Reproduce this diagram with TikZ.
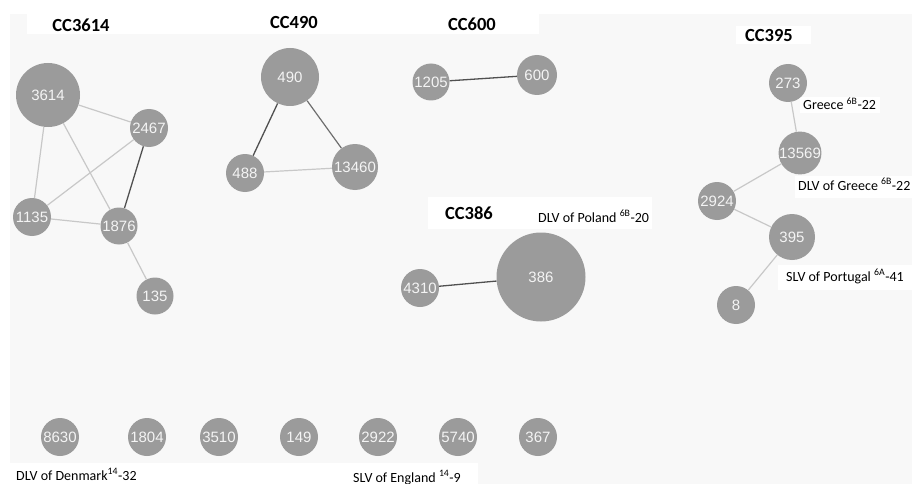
\documentclass[tikz,border=0pt]{standalone}
\usepackage{fontspec}
\setmainfont{Carlito}
\newfontfamily\numfont{Liberation Sans}
\definecolor{panel}{HTML}{F8F8F8}
\definecolor{nodegray}{HTML}{9B9B9B}
\definecolor{nodetext}{HTML}{F4F4F4}
\definecolor{lightedge}{HTML}{C8C8C8}
\definecolor{darkedge}{HTML}{505050}
\definecolor{midedge}{HTML}{6E6E6E}
\begin{document}
\begin{tikzpicture}[x=1pt,y=-1pt,
  st/.style={circle,fill=nodegray,inner sep=0pt,minimum size=#1,text=nodetext,
    font=\numfont\fontsize{15}{17}\selectfont},
  st/.default=38pt,
  lt/.style={draw=lightedge,line width=1.2pt},
  dk/.style={draw=darkedge,line width=1.3pt},
  md/.style={draw=midedge,line width=1.2pt},
  cctitle/.style={font=\bfseries\fontsize{18.5}{20}\selectfont,anchor=base,inner sep=0pt},
  lab/.style={font=\fontsize{14}{16}\selectfont,anchor=base west,inner sep=0pt}]
\useasboundingbox (0,0) rectangle (912,484);
\begin{scope}
\clip (0,0) rectangle (912,484);
% backgrounds
\fill[white] (0,0) rectangle (912,484);
\fill[panel] (10,14) rectangle (912,484);
\fill[white] (27,14) rectangle (539,34);
\fill[white] (736,26) rectangle (811,44);
\fill[white] (428,197) rectangle (652,229);
\fill[white] (10,463) rectangle (478,484);
\fill[white] (795,176) rectangle (912,198);
\fill[white] (778,265) rectangle (912,290);
\fill[white] (800,97) rectangle (880,113);
% titles
\node[cctitle] (t3614) at (81,32) {CC3614};
\node[cctitle] (t490) at (294,29) {CC490};
\node[cctitle] (t600) at (472,31) {CC600};
\node[cctitle] (t395) at (769,42) {CC395};
\node[cctitle] (t386) at (469,219) {CC386};
% labels
\node[lab] (lgr) at (803,110) {Greece \textsuperscript{6B}-22};
\node[lab] (ldgr) at (798,190) {DLV of Greece \textsuperscript{6B}-22};
\node[lab] (lpl) at (538,222) {DLV of Poland \textsuperscript{6B}-20};
\node[lab] (lpt) at (786,281) {SLV of Portugal \textsuperscript{6A}-41};
\node[lab] (ldk) at (16,480) {DLV of Denmark\textsuperscript{14}-32};
\node[lab] (len) at (353,482) {SLV of England \textsuperscript{14}-9};
% CC3614
\node[st=64pt] (n3614) at (48,95) {3614};
\node[st] (n2467) at (149,128) {2467};
\node[st] (n1135) at (32,217) {1135};
\node[st=37pt] (n1876) at (119,226) {1876};
\node[st=37pt] (n135) at (155,296) {135};
% CC490
\node[st=58pt] (n490) at (290,77) {490};
\node[st] (n488) at (245,173) {488};
\node[st=46pt] (n13460) at (355,167) {13460};
% CC600
\node[st=37pt] (n1205) at (431,82) {1205};
\node[st=40pt] (n600) at (537,75) {600};
% CC386
\node[st] (n4310) at (420,288) {4310};
\node[st=89pt] (n386) at (541,277) {386};
% CC395
\node[st] (n273) at (788,83) {273};
\node[st=40pt] (n13569) at (800,153) {13569};
\node[st] (n2924) at (717,201) {2924};
\node[st=46pt] (n395) at (792,237) {395};
\node[st] (n8) at (736,305) {8};
% singletons
\node[st] (n8630) at (60,437) {8630};
\node[st] (n1804) at (147,437) {1804};
\node[st] (n3510) at (219,437) {3510};
\node[st] (n149) at (299,437) {149};
\node[st] (n2922) at (378,437) {2922};
\node[st] (n5740) at (458,437) {5740};
\node[st] (n367) at (538,437) {367};
% edges
\draw[lt] (n3614) -- (n2467);
\draw[lt] (n3614) -- (n1135);
\draw[lt] (n3614) -- (n1876);
\draw[lt] (n2467) -- (n1135);
\draw[dk] (n2467) -- (n1876);
\draw[lt] (n1135) -- (n1876);
\draw[lt] (n1876) -- (n135);
\draw[dk] (n490) -- (n488);
\draw[md] (n490) -- (n13460);
\draw[lt] (n488) -- (n13460);
\draw[dk] (n1205) -- (n600);
\draw[dk] (n4310) -- (n386);
\draw[lt] (n273) -- (n13569);
\draw[lt] (n13569) -- (n2924);
\draw[lt] (n2924) -- (n395);
\draw[lt] (n395) -- (n8);
\end{scope}
\end{tikzpicture}
\end{document}
